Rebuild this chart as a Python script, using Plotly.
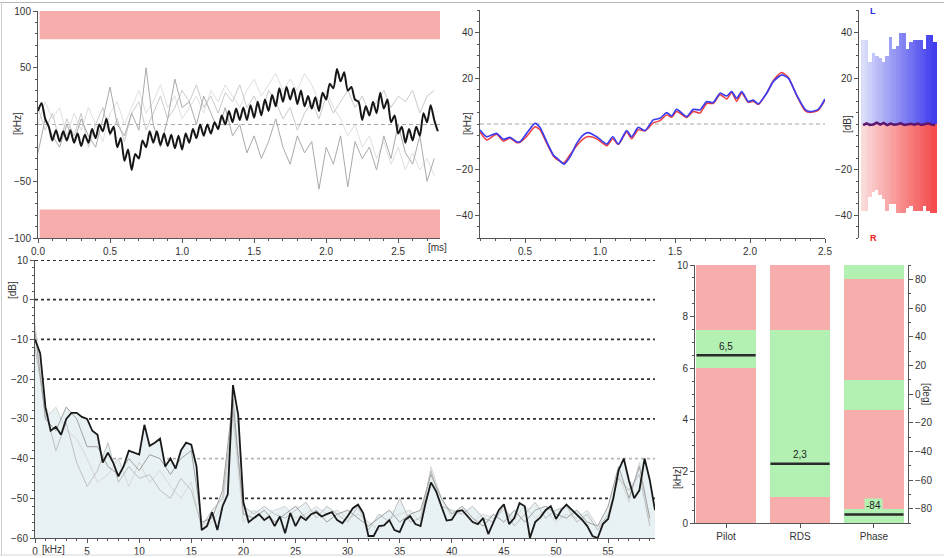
import numpy as np
import plotly.graph_objects as go

# ---------------- data ----------------
# Panel 1: MPX deviation over time [kHz] vs [ms]
dev_t_ms = np.arange(112) * 0.025
dev_current = [12, 19, 5, -2, -14, -5, -15, -6, -14, -5,
               -16, -8, -19, -9, -16, -4, -12, 0, -6, 5,
               -8, -2, -20, -12, -32, -22, -40, -26, -30, -14,
               -20, -6, -16, -6, -18, -8, -19, -9, -21, -10,
               -22, -8, -16, -4, -12, 0, -10, 0, -8, 2,
               -4, 8, 0, 12, 2, 14, 4, 15, 4, 17,
               6, 20, 8, 22, 12, 26, 16, 32, 20, 33,
               22, 32, 18, 30, 16, 25, 14, 24, 12, 28,
               22, 36, 32, 49, 38, 46, 30, 33, 22, 20,
               4, 16, 8, 20, 10, 28, 14, 22, 2, 8,
               -8, -2, -16, -4, -14, -2, -10, 10, 2, 17,
               4, -6]
dev_hist_t_ms = np.arange(56) * 0.05
dev_hist_a = [-25, 5, -10, -20, 0, -15, 5, -10, -20, 5,
              33, 0, -10, 10, -5, 50, 0, -20, 5, 40,
              15, 20, 0, 25, 10, -5, 15, -10, 0, -25,
              -10, -30, -15, 5, -20, -35, -10, -25, -15, -57,
              -20, -35, -10, -55, -15, -30, -20, -40, -10, -30,
              0, -25, -35, -10, -50, -30]
dev_hist_b = [15, -5, 10, -15, 5, -10, 10, -20, 0, 15,
              -10, 5, -15, 10, 20, -5, 10, 25, 5, 15,
              30, 20, 35, 15, 25, 10, 28, 20, 35, 15,
              25, 10, 30, 20, 5, 15, -5, 10, 20, 5,
              25, 10, 20, 30, 15, 25, 10, 20, 30, 15,
              25, 20, 30, 10, 25, 30]
dev_hist_c = [0, 20, 5, 15, -10, 10, -5, 15, 0, -15,
              10, 20, 0, 15, 30, 10, 20, 35, 15, 25,
              5, 15, 25, 10, 30, 20, 35, 25, 15, 30,
              40, 25, 35, 45, 30, 40, 30, 45, 35, 20,
              30, 15, 5, -10, 0, -20, -10, -30, -15, -35,
              -20, -40, -25, -40, -30, -45]
dev_limit_band = [75, 100]

# Panel 2: left / right channel [kHz] vs [ms]
mpx_t_ms = [0.20, 0.245, 0.31, 0.355, 0.40, 0.445, 0.467, 0.511, 0.567, 0.60,
            0.645, 0.689, 0.722, 0.76, 0.80, 0.845, 0.889, 0.922, 0.978, 1.045,
            1.085, 1.122, 1.178, 1.211, 1.255, 1.30, 1.355, 1.40, 1.445, 1.478,
            1.511, 1.578, 1.622, 1.667, 1.711, 1.755, 1.80, 1.845, 1.878, 1.911,
            1.945, 1.989, 2.022, 2.055, 2.111, 2.155, 2.211, 2.255, 2.311, 2.367,
            2.40, 2.455, 2.50]
mpx_left = [-2.6, -5.6, -4.1, -6.7, -5.9, -7.8, -7.8, -4.1, 0.3, -1.5,
            -7.8, -13.6, -15.5, -17.6, -14.4, -8.5, -4.8, -3.8, -5.6, -8.8,
            -5.6, -8.8, -2.9, -5.6, -1.5, -2.9, 1.8, 2.5, 5.0, 3.5,
            6.4, 3.2, 6.4, 6.2, 9.8, 9.4, 13.5, 12.3, 14.2, 11.3,
            14.2, 9.8, 10.5, 8.8, 13.5, 18.6, 21.5, 20.1, 12.7, 6.4,
            5.4, 6.4, 11.0]
mpx_right = [-3.5, -7.0, -4.5, -7.5, -6.2, -8.2, -8.0, -5.5, -1.2, -2.5,
             -8.5, -14.0, -16.0, -17.0, -13.5, -9.5, -6.5, -5.5, -6.5, -9.5,
             -6.5, -9.0, -3.5, -6.5, -2.5, -3.0, 0.5, 1.5, 4.0, 3.0,
             5.5, 2.8, 5.5, 4.8, 9.0, 9.0, 12.8, 11.0, 13.8, 10.0,
             13.5, 9.5, 10.0, 8.5, 13.5, 19.0, 22.6, 20.5, 12.5, 5.8,
             5.0, 6.0, 10.5]

# Panel 3: L / R level history [dB]
lr_bins = list(range(22))
lr_left_db = [37, 37, 27, 31, 30, 29, 27, 30, 38, 33, 34, 40, 40, 33, 36, 37, 37, 37, 33, 39, 39, 36]
lr_right_db = [-38, -38, -32, -30, -29, -31, -33, -38, -35, -35, -39, -39, -39, -37, -36, -38, -38, -38, -36, -38, -39, -39]
lr_balance_db = [-0.5, 0.3, -0.4, -0.2, 0.6, -0.3, 0.5, -0.5, 0.2, -0.3, -0.1, 0.3, -0.4, -0.2, 0.1, -0.3, 0.2, -0.4, -0.1, 0.3, -0.2, -0.5]

# Panel 4: MPX spectrum [dB] vs [kHz]
spec_f_khz = np.arange(120) * 0.5
spec_current = [-10, -13.5, -27, -33, -32, -34, -30, -28.5, -28.5, -29.5,
                -30, -33, -34, -41, -38.5, -41, -44.5, -42, -38, -38.5,
                -39, -31.5, -36.8, -36, -35, -42, -40, -42.5, -38, -36,
                -36.5, -42, -58, -57, -53.5, -58, -52, -49, -21.5, -29,
                -51, -56, -55, -54, -55.5, -54.6, -57, -54.6, -58.8, -53.7,
                -57, -54.6, -55.5, -54, -53.5, -54.6, -54, -53.5, -55.5, -56.3,
                -54.5, -52.5, -51.6, -53.7, -59.5, -59.5, -57, -56.8, -55.5, -58,
                -58.5, -55.5, -54.5, -56.5, -57, -51, -46, -48.3, -52, -55.6,
                -55.4, -53.3, -53, -54.5, -56, -56.5, -55, -59, -55.8, -53,
                -51.5, -56.5, -55, -51.2, -52, -60, -56, -54.8, -53, -52,
                -55.2, -53, -51.6, -52.8, -54, -55.4, -57, -59.5, -60, -56.5,
                -55.2, -50, -43, -40, -45.5, -50, -48, -40, -45.4, -53]
spec_hist_f = np.arange(60)
spec_hist_a = [-8, -30, -33, -27, -30, -37, -37, -42, -44, -40, -43, -39, -40, -44, -40, -38, -56, -55, -48, -25,
               -54, -55, -53, -56, -54, -52, -55, -53, -56, -54, -53, -55, -57, -55, -53, -56, -54, -53, -44, -50,
               -54, -52, -55, -57, -54, -56, -53, -56, -53, -52, -54, -55, -53, -56, -57, -52, -42, -50, -42, -55]
spec_hist_b = [-12, -28, -38, -31, -41, -47, -43, -36, -46, -42, -45, -44, -48, -50, -45, -48, -57, -53, -50, -28,
               -52, -54, -52, -54, -55, -53, -51, -55, -52, -54, -56, -52, -58, -54, -56, -50, -56, -55, -43, -52,
               -53, -54, -52, -55, -56, -52, -57, -54, -51, -55, -53, -52, -56, -54, -58, -54, -45, -48, -44, -57]
spec_hist_c = [-6, -30, -27, -33, -35, -40, -46, -44, -40, -47, -41, -46, -43, -47, -50, -46, -58, -56, -52, -30,
               -56, -53, -55, -53, -52, -55, -54, -52, -54, -53, -55, -54, -56, -58, -55, -54, -53, -56, -42, -50,
               -55, -53, -56, -54, -55, -53, -55, -52, -55, -53, -56, -54, -55, -53, -57, -55, -44, -51, -41, -56]
spec_grid_db = [10, 0, -10, -20, -30, -40, -50]

# Panel 5: Pilot / RDS deviation [kHz] and pilot phase [deg]
meter_names = ["Pilot", "RDS", "Phase"]
meter_values = [6.5, 2.3, -84]
meter_labels = ["6,5", "2,3", "-84"]
pilot_edges = [0, 6, 7.5, 10]
pilot_ok = [False, True, False]
rds_edges = [0, 1, 7.5, 10]
rds_ok = [False, True, False]
phase_edges = [-90, -80, -11, 10, 80, 90]
phase_ok = [True, False, True, False, True]

# ---------------- styling ----------------
W, H = 944, 558
PINK = "#f8adad"
GREEN = "#b3f1b3"
FONT = "Liberation Sans, Arial, sans-serif"
TXT = "#333333"


def P(x):
    return x / W


def Q(y):
    return 1 - y / H


fig = go.Figure()

# Panel 1
for ys, col in [(dev_hist_c, "#e0e0e0"), (dev_hist_b, "#cacaca"), (dev_hist_a, "#aaaaaa")]:
    fig.add_trace(go.Scatter(x=dev_hist_t_ms, y=ys, mode="lines", line=dict(color=col, width=1),
                             xaxis="x", yaxis="y", hoverinfo="skip"))
fig.add_trace(go.Scatter(x=dev_t_ms, y=dev_current, mode="lines",
                         line=dict(color="#161616", width=2, shape="spline", smoothing=0.7),
                         xaxis="x", yaxis="y"))

# Panel 2
fig.add_trace(go.Scatter(x=mpx_t_ms, y=mpx_right, mode="lines", line=dict(color="#f03c3c", width=1.5, shape="spline", smoothing=0.6),
                         xaxis="x2", yaxis="y2"))
fig.add_trace(go.Scatter(x=mpx_t_ms, y=mpx_left, mode="lines", line=dict(color="#3c3cf0", width=1.7, shape="spline", smoothing=0.6),
                         xaxis="x2", yaxis="y2"))

# Panel 3
n = len(lr_bins)
blue_cols, red_cols = [], []
for i in range(n):
    k = i / (n - 1)
    blue_cols.append("rgb(%d,%d,%d)" % (218 - 155 * k, 222 - 162 * k, 250 - 12 * k))
    red_cols.append("rgb(%d,%d,%d)" % (251 - 6 * k, 218 - 143 * k, 218 - 143 * k))
fig.add_trace(go.Bar(x=lr_bins, y=lr_left_db, base=0, width=1.05, opacity=1,
                     marker=dict(color=blue_cols, line=dict(width=0)), xaxis="x3", yaxis="y3"))
fig.add_trace(go.Bar(x=lr_bins, y=lr_right_db, base=0, width=1.05, opacity=1,
                     marker=dict(color=red_cols, line=dict(width=0)), xaxis="x3", yaxis="y3"))
fig.add_trace(go.Scatter(x=lr_bins, y=lr_balance_db, mode="lines", line=dict(color="#5e1670", width=2.5),
                         xaxis="x3", yaxis="y3"))

# Panel 4
hist_interp = [np.interp(spec_f_khz, spec_hist_f, h) for h in (spec_hist_a, spec_hist_b, spec_hist_c)]
envelope = np.maximum.reduce([np.array(spec_current, dtype=float)] + hist_interp)
fig.add_trace(go.Scatter(x=spec_f_khz, y=np.full(len(spec_f_khz), -60.0), mode="lines",
                         line=dict(width=0, color="rgba(0,0,0,0)"), xaxis="x4", yaxis="y4", hoverinfo="skip"))
fig.add_trace(go.Scatter(x=spec_f_khz, y=envelope, mode="lines", fill="tonexty", fillcolor="#e8f1f4",
                         line=dict(width=0, color="rgba(0,0,0,0)"), xaxis="x4", yaxis="y4", hoverinfo="skip"))
for ys, col in [(spec_hist_c, "#d8d8d8"), (spec_hist_b, "#c0c0c0"), (spec_hist_a, "#a0a0a0")]:
    fig.add_trace(go.Scatter(x=spec_hist_f, y=ys, mode="lines", line=dict(color=col, width=1),
                             xaxis="x4", yaxis="y4", hoverinfo="skip"))
fig.add_trace(go.Scatter(x=spec_f_khz, y=spec_current, mode="lines", line=dict(color="#1a1a1a", width=1.8),
                         xaxis="x4", yaxis="y4"))

# Panel 5
for xpos, edges, oks, ya in [(0, pilot_edges, pilot_ok, "y5"), (1, rds_edges, rds_ok, "y5"),
                             (2, phase_edges, phase_ok, "y6")]:
    for lo, hi, ok in zip(edges[:-1], edges[1:], oks):
        fig.add_trace(go.Bar(x=[xpos], y=[hi - lo], base=[lo], width=0.8, opacity=1,
                             marker=dict(color=GREEN if ok else PINK, line=dict(width=0)),
                             xaxis="x5", yaxis=ya, hoverinfo="skip"))

annotations = []
for i, (v, lab) in enumerate(zip(meter_values, meter_labels)):
    ya = "y6" if i == 2 else "y5"
    fig.add_trace(go.Scatter(x=[i - 0.4, i + 0.4], y=[v, v], mode="lines", line=dict(color="#2a2a2a", width=2.5),
                             xaxis="x5", yaxis=ya))
    ann = dict(x=i, y=v, xref="x5", yref=ya, text=lab, showarrow=False, yshift=9,
               font=dict(family=FONT, size=10, color="#222"))
    if i == 2:
        ann["bgcolor"] = GREEN
    annotations.append(ann)


def lbl(x, y, text, angle=0, color=TXT, size=10, bold=False):
    if bold:
        text = "<b>%s</b>" % text
    annotations.append(dict(x=P(x), y=Q(y), xref="paper", yref="paper", text=text, showarrow=False,
                            textangle=angle, xanchor="center", yanchor="middle",
                            font=dict(family=FONT, size=size, color=color)))


lbl(437, 247, "[ms]")
lbl(17, 124, "[kHz]", -90)
lbl(467, 124, "[kHz]", -90)
lbl(847, 124, "[dB]", -90)
lbl(873, 11, "L", color="#2b2be0", size=9, bold=True)
lbl(873, 238, "R", color="#f02020", size=9, bold=True)
lbl(12, 290, "[dB]", -90)
lbl(53, 549, "[kHz]")
lbl(677, 478, "[kHz]", -90)
lbl(927, 394, "[deg]", 90)

# shapes
shapes = []
for lo, hi in [(dev_limit_band[0], dev_limit_band[1]), (-dev_limit_band[1], -dev_limit_band[0])]:
    shapes.append(dict(type="rect", xref="x domain", yref="y", x0=0.004, x1=1, y0=lo, y1=hi,
                       fillcolor=PINK, line=dict(width=0), layer="below"))
shapes.append(dict(type="line", xref="x domain", yref="y", x0=0, x1=1, y0=0, y1=0,
                   line=dict(color="#a8a8a8", width=1.2, dash="4px,3px"), layer="below"))
shapes.append(dict(type="line", xref="x2 domain", yref="y2", x0=0, x1=1, y0=0, y1=0,
                   line=dict(color="#a8a8a8", width=1.2, dash="4px,3px"), layer="below"))
for g in spec_grid_db:
    shapes.append(dict(type="line", xref="x4 domain", yref="y4", x0=0, x1=1, y0=g, y1=g,
                       line=dict(color="#b5b5b5" if g == -40 else "#333333", width=1.8, dash="3px,3px"),
                       layer="below"))
# outer frame
shapes.append(dict(type="line", xref="paper", yref="paper", x0=0, x1=1, y0=Q(2.5), y1=Q(2.5),
                   line=dict(color="#b8b8b8", width=1)))
shapes.append(dict(type="line", xref="paper", yref="paper", x0=P(1.5), x1=P(1.5), y0=Q(555), y1=Q(2.5),
                   line=dict(color="#d0d0d0", width=1)))
shapes.append(dict(type="line", xref="paper", yref="paper", x0=0, x1=1, y0=Q(555), y1=Q(555),
                   line=dict(color="#d8d8d8", width=1)))


def axis(**kw):
    d = dict(showline=True, linecolor="#555", linewidth=1, ticks="outside", ticklen=4, tickwidth=1,
             tickcolor="#555", showgrid=False, zeroline=False, fixedrange=True, automargin=False,
             tickfont=dict(family=FONT, size=10, color=TXT))
    d.update(kw)
    return d


def minor(dt, t0=0):
    return dict(ticks="outside", ticklen=2, tickcolor="#555", tickmode="linear", tick0=t0, dtick=dt, showgrid=False)


fig.update_layout(
    width=W, height=H, margin=dict(l=0, r=0, t=0, b=0, pad=0), autosize=False,
    paper_bgcolor="white", plot_bgcolor="rgba(0,0,0,0)",
    showlegend=False, barmode="overlay", bargap=0,
    xaxis=axis(domain=[P(38), P(440)], range=[0, 2.79], anchor="y", tickmode="linear", tick0=0, dtick=0.5,
               tickformat=".1f", minor=minor(0.1)),
    yaxis=axis(domain=[Q(238), Q(11)], range=[-100, 100], anchor="x", tickmode="array",
               tickvals=[-100, -50, 50, 100], minor=minor(10)),
    xaxis2=axis(domain=[P(480), P(825)], range=[0.2, 2.5], anchor="y2", tickmode="linear", tick0=0.5, dtick=0.5,
                tickformat=".1f", minor=minor(0.1)),
    yaxis2=axis(domain=[Q(238), Q(10)], range=[-50, 50], anchor="x2", tickmode="array",
                tickvals=[-40, -20, 20, 40], minor=minor(5)),
    xaxis3=dict(domain=[P(859), P(937)], range=[-1.2, 21.55], anchor="y3", visible=False, fixedrange=True,
                automargin=False),
    yaxis3=axis(domain=[Q(238), Q(10)], range=[-50, 50], anchor="x3", tickmode="array",
                tickvals=[-40, -20, 20, 40], minor=minor(5)),
    xaxis4=axis(domain=[P(35), P(655)], range=[0, 59.5], anchor="y4", tickmode="linear", tick0=0, dtick=5,
                minor=minor(1)),
    yaxis4=axis(domain=[Q(538), Q(260)], range=[-60, 10], anchor="x4", tickmode="linear", tick0=0, dtick=10,
                minor=minor(2)),
    xaxis5=axis(domain=[P(695), P(908)], range=[-0.42, 2.46], anchor="y5", tickmode="array",
                tickvals=[0, 1, 2], ticktext=meter_names),
    yaxis5=axis(domain=[Q(523), Q(265)], range=[0, 10], anchor="x5", tickmode="linear", tick0=0, dtick=2,
                minor=minor(0.5)),
    yaxis6=axis(overlaying="y5", side="right", anchor="x5", range=[-90, 90], tickmode="array",
                tickvals=[-80, -60, -40, -20, 0, 20, 40, 60, 80], minor=minor(10)),
    annotations=annotations,
    shapes=shapes,
)

fig.write_html("out.html", config={"displayModeBar": False},
               post_script="document.body.style.margin='0';document.body.style.overflow='hidden';")
